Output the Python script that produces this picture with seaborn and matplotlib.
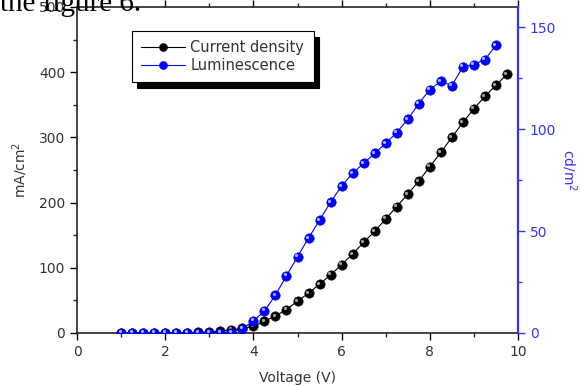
import numpy as np
import pandas as pd
import seaborn as sns
import matplotlib
matplotlib.use("Agg")
import matplotlib.pyplot as plt
from matplotlib.ticker import MultipleLocator
from matplotlib import transforms

voltage_j = [1.0, 1.25, 1.5, 1.75, 2.0, 2.25, 2.5, 2.75, 3.0, 3.25, 3.5, 3.75,
             4.0, 4.25, 4.5, 4.75, 5.0, 5.25, 5.5, 5.75, 6.0, 6.25, 6.5, 6.75,
             7.0, 7.25, 7.5, 7.75, 8.0, 8.25, 8.5, 8.75, 9.0, 9.25, 9.5, 9.75]
current_density = [0, 0, 0, 0, 0, 0.5, 0.5, 1, 1.5, 3, 5, 7,
                   10, 18, 26, 36, 49, 61, 75, 89, 105, 121, 139, 156,
                   175, 194, 213, 233, 255, 277, 300, 323, 344, 363, 380, 397]
voltage_l = [1.0, 1.25, 1.5, 1.75, 2.0, 2.25, 2.5, 2.75, 3.0, 3.25, 3.5, 3.75,
             4.0, 4.25, 4.5, 4.75, 5.0, 5.25, 5.5, 5.75, 6.0, 6.25, 6.5, 6.75,
             7.0, 7.25, 7.5, 7.75, 8.0, 8.25, 8.5, 8.75, 9.0, 9.25, 9.5]
luminescence = [0, 0, 0, 0, 0, 0, 0, 0, 0, 0, 0.2, 2.1,
                5.9, 10.8, 18.6, 28.1, 37.4, 46.6, 55.4, 64.2, 72.1, 78.4, 83.3, 88.2,
                93.1, 98.4, 104.9, 112.6, 119.5, 123.5, 121.4, 130.7, 131.7, 134.2, 141.3]

sns.set_style("ticks")
plt.rcParams['font.family'] = ['DejaVu Sans']

fig = plt.figure(figsize=(5.81, 3.88), dpi=100)
ax = fig.add_axes([77/581, 55/388, 441/581, 326/388])
ax2 = ax.twinx()

dfj = pd.DataFrame({"V": voltage_j, "J": current_density})
dfl = pd.DataFrame({"V": voltage_l, "L": luminescence})

ms = 6.8
sns.lineplot(data=dfj, x="V", y="J", ax=ax, color="black", lw=0.8,
             marker="o", markersize=ms, markeredgecolor="#111111", markeredgewidth=0.4,
             label="Current density", legend=False)
sns.lineplot(data=dfl, x="V", y="L", ax=ax2, color="blue", lw=0.8,
             marker="o", markersize=ms, markeredgecolor="#0000cc", markeredgewidth=0.4,
             label="Luminescence", legend=False)

# highlight on spheres
off1 = transforms.offset_copy(ax.transData, fig=fig, x=-1.1, y=1.1, units='points')
off2 = transforms.offset_copy(ax2.transData, fig=fig, x=-1.1, y=1.1, units='points')
ax.plot(voltage_j, current_density, ls='none', marker='o', ms=2.3,
        color='#a0a0a0', mec='none', transform=off1)
ax2.plot(voltage_l, luminescence, ls='none', marker='o', ms=2.3,
         color='#9fb4ff', mec='none', transform=off2)

ax.set_xlim(0, 10)
ax.set_ylim(0, 500)
ax2.set_ylim(0, 160)
ax.xaxis.set_major_locator(MultipleLocator(2))
ax.xaxis.set_minor_locator(MultipleLocator(1))
ax.yaxis.set_major_locator(MultipleLocator(100))
ax.yaxis.set_minor_locator(MultipleLocator(50))
ax2.yaxis.set_major_locator(MultipleLocator(50))
ax2.yaxis.set_minor_locator(MultipleLocator(25))

ax.tick_params(axis='both', which='major', direction='out', length=5, width=1,
               labelsize=10, colors='black', labelcolor='#333333')
ax.tick_params(axis='both', which='minor', direction='out', length=3, width=1)
ax.tick_params(axis='x', which='both', top=True, labeltop=False)
ax2.tick_params(axis='y', which='major', direction='out', length=5, width=1,
                colors='#3333ff', labelsize=10, labelcolor='#3333ff')
ax2.tick_params(axis='y', which='minor', direction='out', length=3, width=1, colors='#3333ff')

for s in ax.spines.values():
    s.set_linewidth(1.2)
ax2.spines['right'].set_color('#3333ff')
ax2.spines['right'].set_linewidth(1.6)
for s in ['left', 'top', 'bottom']:
    ax2.spines[s].set_visible(False)

ax.set_xlabel("Voltage (V)", fontsize=10, color='#333333', labelpad=9)
ax.set_ylabel("mA/cm$^2$", fontsize=10, color='#333333', labelpad=6)
ax2.set_ylabel("cd/m$^2$", fontsize=10, color='#3333ff', rotation=270, labelpad=16)

h1, l1 = ax.get_legend_handles_labels()
h2, l2 = ax2.get_legend_handles_labels()
leg = ax2.legend(h1 + h2, l1 + l2, loc='upper left',
                 bbox_to_anchor=((132 - 77) / 441, (333 - 31) / 326),
                 borderaxespad=0, frameon=True, fancybox=False,
                 shadow={'color': 'black', 'alpha': 1, 'ox': 3.6, 'oy': -4.3},
                 edgecolor='black', fontsize=10.5, handlelength=3.0, borderpad=0.65,
                 labelspacing=0.15, handletextpad=0.35, markerscale=0.85)
leg.get_frame().set_linewidth(0.8)
for t in leg.get_texts():
    t.set_color('#333333')

fig.text(0.0, 1 - 11/388, "the figure 6.", fontsize=21, family='Liberation Serif',
         va='baseline', ha='left', color='black')

fig.savefig("out.png", dpi=100)
